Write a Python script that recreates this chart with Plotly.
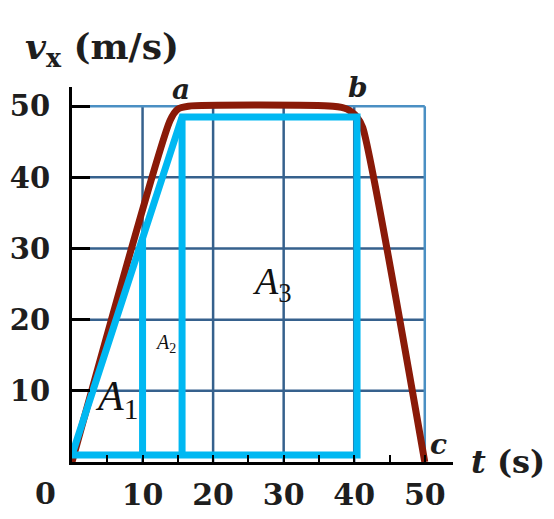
import plotly.graph_objects as go

# ---- data ----
t_motion = [0, 13.9, 15.0, 16.5, 37.0, 39.0, 40.3, 41.2, 50.0]
v_motion = [0, 48.0, 49.6, 50.0, 50.0, 49.6, 48.6, 47.0, 0.0]

t_outline = [0, 15.6, 40.4, 40.4, 0]
v_outline = [1, 48.5, 48.5, 1, 1]
t_dividers = [10, 10, None, 15.6, 15.6]
v_dividers = [1, 31.6, None, 1, 48.5]

x_tick_vals = [10, 20, 30, 40, 50]
y_tick_vals = [10, 20, 30, 40, 50]
x_minor_vals = [5, 15, 25, 35, 45]
grid_t = [10, 20, 30, 40]
grid_v = [10, 20, 30, 40]
t_max = 50
v_max = 50

point_labels = ["a", "b", "c"]
point_t = [15.5, 40.5, 52.0]
point_v = [52.4, 52.6, 2.5]

area_labels = ["<i>A</i><sub>1</sub>", "<i>A</i><sub>2</sub>", "<i>A</i><sub>3</sub>"]
area_t = [6.3, 13.2, 28.4]
area_v = [8.8, 16.7, 25.0]
area_sizes = [42, 20, 38]

SERIF = "DejaVu Serif"
TXT = "#1e1e1e"
GRID = "#36618d"
EDGE = "#4a8fc3"
BROWN = "#8a1a08"
CYAN = "#00b8f2"

# plot area geometry (pixels); page body adds an 8px offset
W, H = 538, 503
L, R, T, B = 64, 93, 79, 49
X_RANGE = [0, 54]
Y_RANGE = [0, 52.7]


def px(tx):
    return (tx - X_RANGE[0]) / (X_RANGE[1] - X_RANGE[0])


def py(vy):
    return (vy - Y_RANGE[0]) / (Y_RANGE[1] - Y_RANGE[0])


fig = go.Figure()

fig.add_trace(go.Scatter(x=t_motion, y=v_motion, mode="lines",
                         line=dict(color=BROWN, width=7, shape="spline", smoothing=0.6),
                         hoverinfo="skip"))
fig.add_trace(go.Scatter(x=t_outline, y=v_outline, mode="lines",
                         line=dict(color=CYAN, width=7), hoverinfo="skip"))
fig.add_trace(go.Scatter(x=t_dividers, y=v_dividers, mode="lines",
                         line=dict(color=CYAN, width=7), hoverinfo="skip"))

shapes = []
for g in grid_t:
    shapes.append(dict(type="line", xref="x", yref="y", x0=g, x1=g, y0=0, y1=v_max,
                       line=dict(color=GRID, width=2.5), layer="below"))
for g in grid_v:
    shapes.append(dict(type="line", xref="x", yref="y", x0=0, x1=t_max, y0=g, y1=g,
                       line=dict(color=GRID, width=2.5), layer="below"))
shapes.append(dict(type="line", xref="x", yref="y", x0=0, x1=t_max, y0=v_max, y1=v_max,
                   line=dict(color=EDGE, width=2.5), layer="below"))
shapes.append(dict(type="line", xref="x", yref="y", x0=t_max, x1=t_max, y0=0, y1=v_max,
                   line=dict(color=EDGE, width=2.5), layer="below"))

annotations = []
for lab, x, y in zip(point_labels, point_t, point_v):
    annotations.append(dict(x=px(x), y=py(y), xref="paper", yref="paper",
                            xanchor="center", yanchor="middle",
                            text=f"<b><i>{lab}</i></b>",
                            showarrow=False, font=dict(family=SERIF, size=28, color=TXT)))
for lab, x, y, s in zip(area_labels, area_t, area_v, area_sizes):
    annotations.append(dict(x=px(x), y=py(y), xref="paper", yref="paper", text=lab,
                            xanchor="center", yanchor="middle", showarrow=False,
                            font=dict(family="Liberation Serif", size=s, color="#111111")))
annotations.append(dict(x=px(-7.0), y=py(58.1), xref="paper", yref="paper",
                        xanchor="left", yanchor="middle",
                        text="<b><i>v</i><sub>x</sub> (m/s)</b>", showarrow=False,
                        font=dict(family=SERIF, size=36, color=TXT)))
annotations.append(dict(x=px(56.3), y=py(0.0), xref="paper", yref="paper",
                        xanchor="left", yanchor="middle",
                        text="<b><i>t</i> (s)</b>", showarrow=False,
                        font=dict(family=SERIF, size=32, color=TXT)))
annotations.append(dict(x=px(-3.8), y=py(-4.4), xref="paper", yref="paper",
                        xanchor="center", yanchor="middle",
                        text="<b>0</b>", showarrow=False,
                        font=dict(family=SERIF, size=30, color=TXT)))

fig.update_layout(
    width=W, height=H,
    margin=dict(l=L, r=R, t=T, b=B, autoexpand=False),
    paper_bgcolor="white", plot_bgcolor="white",
    showlegend=False,
    shapes=shapes, annotations=annotations,
    xaxis=dict(range=X_RANGE, showgrid=False, zeroline=False, automargin=False,
               showline=True, linecolor="black", linewidth=3,
               tickvals=x_tick_vals, ticktext=[f"<b>{v}</b>" for v in x_tick_vals],
               ticks="inside", ticklen=7, tickwidth=2, tickcolor="black",
               ticklabelstandoff=4,
               minor=dict(tickvals=x_minor_vals, ticks="inside", ticklen=7,
                          tickwidth=2, tickcolor="black"),
               tickfont=dict(family=SERIF, size=30, color=TXT)),
    yaxis=dict(range=Y_RANGE, showgrid=False, zeroline=False, automargin=False,
               showline=True, linecolor="black", linewidth=3,
               tickvals=y_tick_vals, ticktext=[f"<b>{v}</b>" for v in y_tick_vals],
               ticks="inside", ticklen=18, tickwidth=2.5, tickcolor="black",
               ticklabelstandoff=13,
               tickfont=dict(family=SERIF, size=29, color=TXT)),
)

fig.write_html("out.html")
